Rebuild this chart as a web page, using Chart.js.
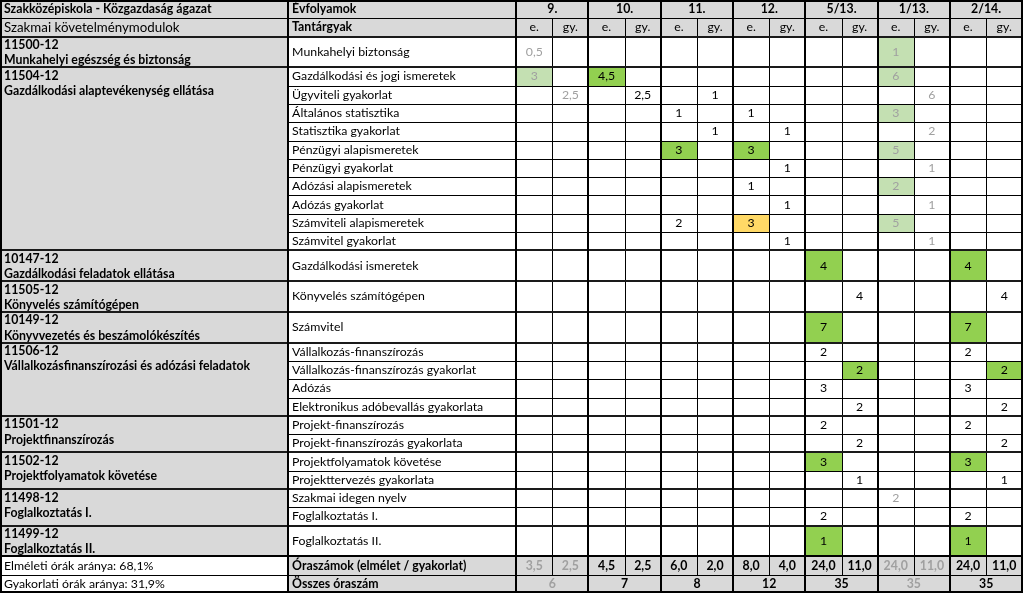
<!DOCTYPE html>
<html>
<head>
<meta charset="utf-8">
<script src="https://cdn.jsdelivr.net/npm/chart.js@4.4.0/dist/chart.umd.min.js"></script>
<style>
body { margin: 0; background: #fff; }
</style>
</head>
<body>
<canvas id="mycanvas" width="1023" height="593"></canvas>
<script>
var _ = null;

var title = 'Szakközépiskola - Közgazdaság ágazat';
var moduleHeader = 'Szakmai követelménymodulok';
var yearHeader = 'Évfolyamok';
var subjectHeader = 'Tantárgyak';
var years = ['9.', '10.', '11.', '12.', '5/13.', '1/13.', '2/14.'];
var kinds = ['e.', 'gy.'];
var fadedYears = ['9.', '1/13.'];

var moduleCodes = ['11500-12', '11504-12', '10147-12', '11505-12', '10149-12', '11506-12', '11501-12', '11502-12', '11498-12', '11499-12'];
var moduleNames = ['Munkahelyi egészség és biztonság', 'Gazdálkodási alaptevékenység ellátása', 'Gazdálkodási feladatok ellátása',
  'Könyvelés számítógépen', 'Könyvvezetés és beszámolókészítés', 'Vállalkozásfinanszírozási és adózási feladatok',
  'Projektfinanszírozás', 'Projektfolyamatok követése', 'Foglalkoztatás I.', 'Foglalkoztatás II.'];
var moduleSubjects = [1, 10, 1, 1, 1, 4, 2, 2, 2, 1];

var subjects = ['Munkahelyi biztonság', 'Gazdálkodási és jogi ismeretek', 'Ügyviteli gyakorlat', 'Általános statisztika',
  'Statisztika gyakorlat', 'Pénzügyi alapismeretek', 'Pénzügyi gyakorlat', 'Adózási alapismeretek', 'Adózás gyakorlat',
  'Számviteli alapismeretek', 'Számvitel gyakorlat', 'Gazdálkodási ismeretek', 'Könyvelés számítógépen', 'Számvitel',
  'Vállalkozás-finanszírozás', 'Vállalkozás-finanszírozás gyakorlat', 'Adózás', 'Elektronikus adóbevallás gyakorlata',
  'Projekt-finanszírozás', 'Projekt-finanszírozás gyakorlata', 'Projektfolyamatok követése', 'Projekttervezés gyakorlata',
  'Szakmai idegen nyelv', 'Foglalkoztatás I.', 'Foglalkoztatás II.'];

// 9. e/gy, 10. e/gy, 11. e/gy, 12. e/gy, 5/13. e/gy, 1/13. e/gy, 2/14. e/gy
var hours = [
  [0.5, _, _, _, _, _, _, _, _, _, 1, _, _, _],
  [3, _, 4.5, _, _, _, _, _, _, _, 6, _, _, _],
  [_, 2.5, _, 2.5, _, 1, _, _, _, _, _, 6, _, _],
  [_, _, _, _, 1, _, 1, _, _, _, 3, _, _, _],
  [_, _, _, _, _, 1, _, 1, _, _, _, 2, _, _],
  [_, _, _, _, 3, _, 3, _, _, _, 5, _, _, _],
  [_, _, _, _, _, _, _, 1, _, _, _, 1, _, _],
  [_, _, _, _, _, _, 1, _, _, _, 2, _, _, _],
  [_, _, _, _, _, _, _, 1, _, _, _, 1, _, _],
  [_, _, _, _, 2, _, 3, _, _, _, 5, _, _, _],
  [_, _, _, _, _, _, _, 1, _, _, _, 1, _, _],
  [_, _, _, _, _, _, _, _, 4, _, _, _, 4, _],
  [_, _, _, _, _, _, _, _, _, 4, _, _, _, 4],
  [_, _, _, _, _, _, _, _, 7, _, _, _, 7, _],
  [_, _, _, _, _, _, _, _, 2, _, _, _, 2, _],
  [_, _, _, _, _, _, _, _, _, 2, _, _, _, 2],
  [_, _, _, _, _, _, _, _, 3, _, _, _, 3, _],
  [_, _, _, _, _, _, _, _, _, 2, _, _, _, 2],
  [_, _, _, _, _, _, _, _, 2, _, _, _, 2, _],
  [_, _, _, _, _, _, _, _, _, 2, _, _, _, 2],
  [_, _, _, _, _, _, _, _, 3, _, _, _, 3, _],
  [_, _, _, _, _, _, _, _, _, 1, _, _, _, 1],
  [_, _, _, _, _, _, _, _, _, _, 2, _, _, _],
  [_, _, _, _, _, _, _, _, 2, _, _, _, 2, _],
  [_, _, _, _, _, _, _, _, 1, _, _, _, 1, _]
];

// marked cells: [subject, column, mark]  (g = green, y = yellow)
var marks = [[0, 10, 'g'], [1, 0, 'g'], [1, 2, 'g'], [1, 10, 'g'], [3, 10, 'g'], [5, 4, 'g'], [5, 6, 'g'], [5, 10, 'g'],
  [7, 10, 'g'], [9, 6, 'y'], [9, 10, 'g'], [11, 8, 'g'], [11, 12, 'g'], [13, 8, 'g'], [13, 12, 'g'],
  [15, 9, 'g'], [15, 13, 'g'], [20, 8, 'g'], [20, 12, 'g'], [24, 8, 'g'], [24, 12, 'g']];

var sumLabel = 'Óraszámok (elmélet / gyakorlat)';
var totalLabel = 'Összes óraszám';
var hourSums = [3.5, 2.5, 4.5, 2.5, 6.0, 2.0, 8.0, 4.0, 24.0, 11.0, 24.0, 11.0, 24.0, 11.0];
var yearTotals = [6, 7, 8, 12, 35, 35, 35];
var ratioLabels = ['Elméleti órák aránya: 68,1%', 'Gyakorlati órák aránya: 31,9%'];

// layout in column units
var modW = 7.97, subW = 6.31, tallRow = 1.68;
var hx0 = modW + subW;
var totalW = hx0 + years.length * 2 + 0.02;

var rowH = subjects.map(function(s, i) { return 1; });
var moduleStart = [];
(function() {
  var r = 0;
  moduleSubjects.forEach(function(n) {
    moduleStart.push(r);
    if (n == 1) rowH[r] = tallRow;
    r += n;
  });
})();
var rowTop = [];
var yy = 2;
rowH.forEach(function(h) { rowTop.push(yy); yy += h; });
var bodyEnd = yy;
var totalH = bodyEnd + 2;

var FONT = 'Lato, "Open Sans", sans-serif';
var BASE = 12.3;
var GREY = '#d9d9d9', FADED = '#a0a0a0';
var fills = { g: '#92d050', y: '#ffd966', gf: '#c4e0b2' };

function fmt(v, dec) {
  return (dec ? v.toFixed(1) : String(v)).replace('.', ',');
}

var tablePlugin = {
  id: 'table',
  afterDraw: function(chart) {
    var c = chart.ctx, sx = chart.scales.x, sy = chart.scales.y;
    function X(v) { return Math.round(sx.getPixelForValue(v)); }
    function Y(v) { return Math.round(sy.getPixelForValue(v)); }
    function rect(x0, y0, x1, y1, col) {
      c.fillStyle = col;
      c.fillRect(X(x0), Y(y0), X(x1) - X(x0), Y(y1) - Y(y0));
    }
    function hline(x0, x1, y, w, col) {
      c.fillStyle = col || '#000';
      c.fillRect(X(x0), Y(y) - (w > 1 ? 1 : 0), X(x1) - X(x0), w);
    }
    function vline(x, y0, y1, w, col) {
      c.fillStyle = col || '#000';
      c.fillRect(X(x) - (w > 1 ? 1 : 0), Y(y0), w, Y(y1) - Y(y0));
    }
    function text(s, x, y, opt) {
      opt = opt || {};
      c.font = (opt.bold ? 'bold ' : '') + (opt.size || BASE) + 'px ' + FONT;
      c.fillStyle = opt.color || '#000';
      c.textAlign = opt.align || 'left';
      c.textBaseline = 'middle';
      c.fillText(s, sx.getPixelForValue(x) + (opt.dx || 0), sy.getPixelForValue(y) + (opt.dy || 0));
    }
    function colX(i) { return hx0 + i; }
    function faded(col) { return fadedYears.indexOf(years[Math.floor(col / 2)]) >= 0; }

    // backgrounds
    c.fillStyle = '#fff';
    c.fillRect(0, 0, chart.width, chart.height);
    rect(0, 0, totalW, 2, GREY);
    rect(0, 2, modW, bodyEnd, GREY);
    rect(modW, bodyEnd, totalW, totalH, GREY);

    marks.forEach(function(m) {
      var key = m[2] == 'g' && faded(m[1]) ? 'gf' : m[2];
      rect(colX(m[1]), rowTop[m[0]], colX(m[1] + 1), rowTop[m[0]] + rowH[m[0]], fills[key]);
    });

    // thin lines
    hline(0, totalW, 1, 1);
    rowTop.forEach(function(t) { hline(modW, totalW, t, 1); });
    hline(0, totalW, bodyEnd + 1, 1);
    for (var i = 1; i < years.length * 2; i += 2) vline(colX(i), 1, bodyEnd + 1, 1);

    // thick lines
    hline(0, totalW, 2, 2);
    moduleStart.forEach(function(r) { hline(0, totalW, rowTop[r], 2, '#1a1a1a'); });
    hline(0, totalW, bodyEnd, 2);
    vline(modW, 0, totalH, 2);
    for (var k = 0; k <= years.length; k++) vline(colX(k * 2), 0, totalH, 2);
    c.lineWidth = 2;
    c.strokeStyle = '#000';
    c.strokeRect(1, 1, X(totalW) - 2, chart.height - 2);

    // header
    text(title, 0, 0.5, { bold: true, dx: 4 });
    text(moduleHeader, 0, 1.5, { dx: 4, size: 13.3 });
    text(yearHeader, modW, 0.5, { bold: true, dx: 4 });
    text(subjectHeader, modW, 1.5, { bold: true, dx: 4 });
    years.forEach(function(yv, k) {
      text(yv, colX(k * 2 + 1), 0.5, { bold: true, align: 'center' });
      kinds.forEach(function(kv, j) {
        text(kv, colX(k * 2 + j) + 0.5, 1.5, { align: 'center' });
      });
    });

    // modules
    moduleStart.forEach(function(r, m) {
      text(moduleCodes[m], 0, rowTop[r] + 0.47, { bold: true, dx: 4 });
      text(moduleNames[m], 0, rowTop[r] + 1.3, { bold: true, dx: 4 });
    });

    // subjects and hours
    subjects.forEach(function(s, r) {
      var cy = rowTop[r] + rowH[r] / 2;
      text(s, modW, cy, { dx: 4 });
      hours[r].forEach(function(v, col) {
        if (v === null) return;
        text(fmt(v), colX(col) + 0.5, cy, { align: 'center', color: faded(col) ? FADED : '#000' });
      });
    });

    // footer
    text(ratioLabels[0], 0, bodyEnd + 0.5, { dx: 4 });
    text(ratioLabels[1], 0, bodyEnd + 1.5, { dx: 4 });
    text(sumLabel, modW, bodyEnd + 0.5, { bold: true, dx: 4 });
    text(totalLabel, modW, bodyEnd + 1.5, { bold: true, dx: 4 });
    hourSums.forEach(function(v, col) {
      text(fmt(v, true), colX(col) + 0.5, bodyEnd + 0.5, { bold: true, align: 'center', color: faded(col) ? FADED : '#000' });
    });
    yearTotals.forEach(function(v, k) {
      text(fmt(v), colX(k * 2 + 1), bodyEnd + 1.5, { bold: true, align: 'center', color: faded(k * 2) ? FADED : '#000' });
    });
  }
};

var ctx = document.getElementById('mycanvas');
var table = new Chart(ctx, {
  type: 'scatter',
  data: { datasets: [] },
  options: {
    responsive: false,
    animation: false,
    layout: { padding: 0 },
    plugins: { legend: { display: false }, tooltip: { enabled: false } },
    scales: {
      x: { type: 'linear', min: 0, max: totalW, display: false },
      y: { type: 'linear', min: 0, max: totalH, reverse: true, display: false }
    }
  },
  plugins: [tablePlugin]
});
</script>
</body>
</html>
